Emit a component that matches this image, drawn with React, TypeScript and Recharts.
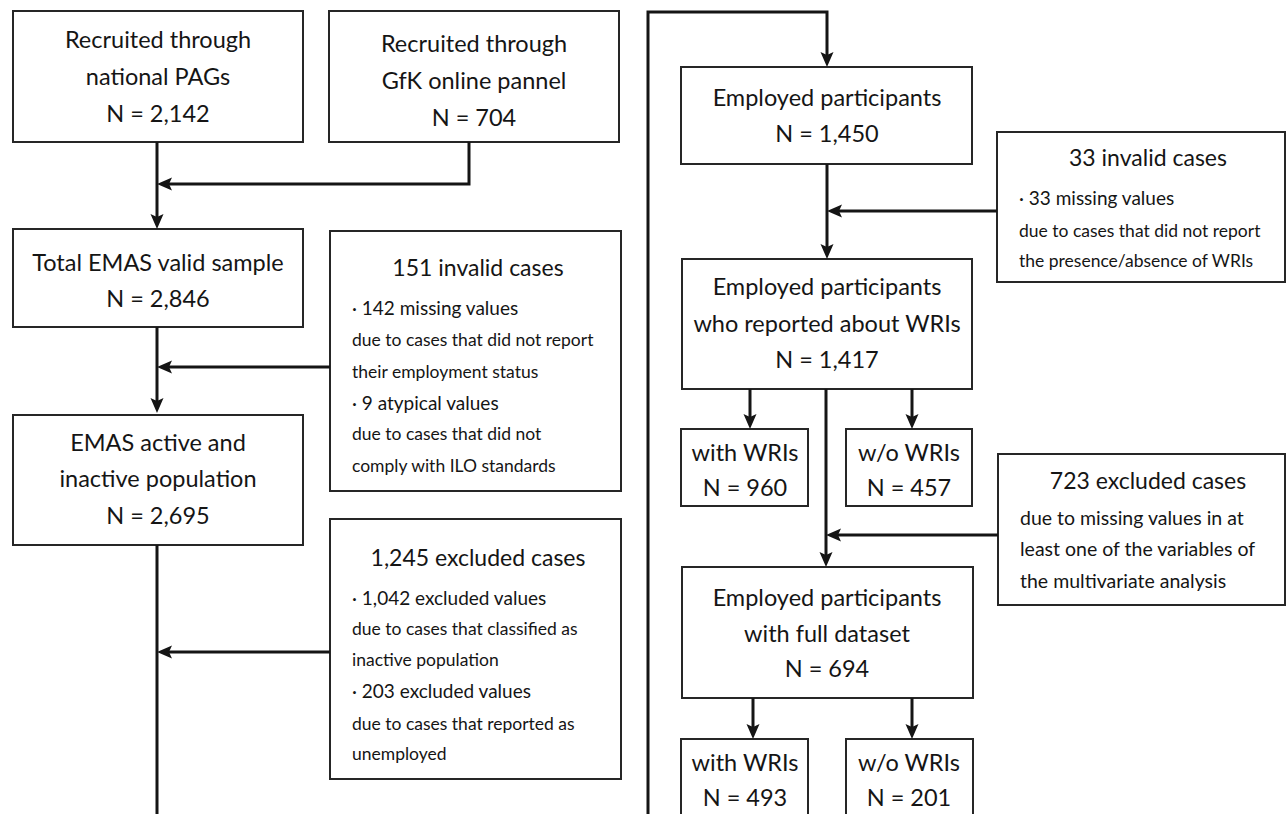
import { ScatterChart, Scatter, XAxis, YAxis, ReferenceArea } from "recharts";

// flowchart drawn on a pixel-like coordinate grid (0..1286 x 0..814, y down)
const W = 1286;
const H = 814;

const boxes = [
  { id: "pags", x1: 13, x2: 303, y1: 11, y2: 142 },
  { id: "gfk", x1: 329, x2: 619, y1: 11, y2: 142 },
  { id: "total", x1: 13, x2: 303, y1: 229, y2: 327 },
  { id: "invalid151", x1: 330, x2: 621, y1: 231, y2: 491 },
  { id: "active", x1: 13, x2: 303, y1: 415, y2: 545 },
  { id: "excluded1245", x1: 330, x2: 621, y1: 519, y2: 779 },
  { id: "employed", x1: 681, x2: 972, y1: 67, y2: 164 },
  { id: "invalid33", x1: 997, x2: 1285, y1: 132, y2: 282 },
  { id: "reported", x1: 682, x2: 972, y1: 259, y2: 389 },
  { id: "with1", x1: 681, x2: 808, y1: 429, y2: 506 },
  { id: "wo1", x1: 846, x2: 972, y1: 429, y2: 506 },
  { id: "excluded723", x1: 998, x2: 1285, y1: 454, y2: 605 },
  { id: "full", x1: 682, x2: 973, y1: 567, y2: 698 },
  { id: "with2", x1: 681, x2: 808, y1: 739, y2: 840 },
  { id: "wo2", x1: 846, x2: 973, y1: 739, y2: 840 },
];

// centred labels of the main boxes
const mainLabels = [
  { x: 158, y: 39, text: "Recruited through" },
  { x: 158, y: 76, text: "national PAGs" },
  { x: 158, y: 113, text: "N = 2,142" },
  { x: 474, y: 43, text: "Recruited through" },
  { x: 474, y: 80, text: "GfK online pannel" },
  { x: 474, y: 117, text: "N = 704" },
  { x: 158, y: 262, text: "Total EMAS valid sample" },
  { x: 158, y: 298, text: "N = 2,846" },
  { x: 158, y: 442, text: "EMAS active and" },
  { x: 158, y: 478, text: "inactive population" },
  { x: 158, y: 515, text: "N = 2,695" },
  { x: 827, y: 97, text: "Employed participants" },
  { x: 827, y: 133, text: "N = 1,450" },
  { x: 827, y: 286, text: "Employed participants" },
  { x: 827, y: 323, text: "who reported about WRIs" },
  { x: 827, y: 359, text: "N = 1,417" },
  { x: 745, y: 452, text: "with WRIs" },
  { x: 745, y: 487, text: "N = 960" },
  { x: 909, y: 452, text: "w/o WRIs" },
  { x: 909, y: 487, text: "N = 457" },
  { x: 827, y: 597, text: "Employed participants" },
  { x: 827, y: 633, text: "with full dataset" },
  { x: 827, y: 668, text: "N = 694" },
  { x: 745, y: 762, text: "with WRIs" },
  { x: 745, y: 797, text: "N = 493" },
  { x: 909, y: 762, text: "w/o WRIs" },
  { x: 909, y: 797, text: "N = 201" },
];

const sideTitles = [
  { x: 478, y: 267, text: "151 invalid cases" },
  { x: 478, y: 557, text: "1,245 excluded cases" },
  { x: 1148, y: 157, text: "33 invalid cases" },
  { x: 1148, y: 480, text: "723 excluded cases" },
];

const bulletLines = [
  { x: 352, y: 307, text: "· 142 missing values" },
  { x: 352, y: 402, text: "· 9 atypical values" },
  { x: 352, y: 597, text: "· 1,042 excluded values" },
  { x: 352, y: 690, text: "· 203 excluded values" },
  { x: 1019, y: 197, text: "· 33 missing values" },
];

const detailLines = [
  { x: 352, y: 339, text: "due to cases that did not report" },
  { x: 352, y: 371, text: "their employment status" },
  { x: 352, y: 433, text: "due to cases that did not" },
  { x: 352, y: 465, text: "comply with ILO standards" },
  { x: 352, y: 628, text: "due to cases that classified as" },
  { x: 352, y: 659, text: "inactive population" },
  { x: 352, y: 723, text: "due to cases that reported as" },
  { x: 352, y: 753, text: "unemployed" },
  { x: 1019, y: 230, text: "due to cases that did not report" },
  { x: 1019, y: 260, text: "the presence/absence of WRIs" },
];

const detailLines723 = [
  { x: 1020, y: 517, text: "due to missing values in at" },
  { x: 1020, y: 548, text: "least one of the variables of" },
  { x: 1020, y: 580, text: "the multivariate analysis" },
];

const connectors = [
  [{ x: 157, y: 142 }, { x: 157, y: 222 }],
  [{ x: 469, y: 142 }, { x: 469, y: 184 }, { x: 164, y: 184 }],
  [{ x: 157, y: 327 }, { x: 157, y: 405 }],
  [{ x: 330, y: 367 }, { x: 164, y: 367 }],
  [{ x: 157, y: 545 }, { x: 157, y: 830 }],
  [{ x: 330, y: 652 }, { x: 164, y: 652 }],
  [{ x: 648, y: 830 }, { x: 648, y: 12 }, { x: 827, y: 12 }, { x: 827, y: 60 }],
  [{ x: 827, y: 164 }, { x: 827, y: 252 }],
  [{ x: 997, y: 211 }, { x: 834, y: 211 }],
  [{ x: 750, y: 389 }, { x: 750, y: 422 }],
  [{ x: 912, y: 389 }, { x: 912, y: 422 }],
  [{ x: 826, y: 389 }, { x: 826, y: 560 }],
  [{ x: 998, y: 535 }, { x: 833, y: 535 }],
  [{ x: 753, y: 698 }, { x: 753, y: 732 }],
  [{ x: 912, y: 698 }, { x: 912, y: 732 }],
];

// arrow tips
const arrows = [
  { x: 157, y: 229, dir: "down" },
  { x: 157, y: 184, dir: "left" },
  { x: 157, y: 413, dir: "down" },
  { x: 157, y: 367, dir: "left" },
  { x: 157, y: 652, dir: "left" },
  { x: 827, y: 67, dir: "down" },
  { x: 827, y: 259, dir: "down" },
  { x: 827, y: 211, dir: "left" },
  { x: 750, y: 429, dir: "down" },
  { x: 912, y: 429, dir: "down" },
  { x: 826, y: 567, dir: "down" },
  { x: 826, y: 535, dir: "left" },
  { x: 753, y: 739, dir: "down" },
  { x: 912, y: 739, dir: "down" },
];

const FONT = "Lato, 'Open Sans', sans-serif";
const INK = "#151515";

const makeText = (size: number, anchor: "middle" | "start") => (props: any) => {
  const { cx, cy, payload } = props;
  return (
    <text
      x={cx}
      y={cy}
      textAnchor={anchor}
      dominantBaseline="central"
      fontSize={size}
      fontFamily={FONT}
      fill={INK}
    >
      {payload.text}
    </text>
  );
};

const ArrowHead = (props: any) => {
  const { cx, cy, payload } = props;
  const len = 15;
  const half = 6.5;
  const notch = 3;
  const pts =
    payload.dir === "down"
      ? [
          [cx, cy],
          [cx - half, cy - len],
          [cx, cy - len + notch],
          [cx + half, cy - len],
        ]
      : [
          [cx, cy],
          [cx + len, cy - half],
          [cx + len - notch, cy],
          [cx + len, cy + half],
        ];
  return <polygon points={pts.map((p) => p.join(",")).join(" ")} fill={INK} />;
};

const Nothing = () => <g />;

export default function App() {
  return (
    <div style={{ position: "absolute", left: 0, top: 0, background: "#fff" }}>
      <ScatterChart
        width={W}
        height={H}
        margin={{ top: 0, right: 0, bottom: 0, left: 0 }}
      >
        <XAxis type="number" dataKey="x" domain={[0, W]} hide allowDataOverflow />
        <YAxis
          type="number"
          dataKey="y"
          domain={[0, H]}
          reversed
          hide
          allowDataOverflow
        />
        {boxes.map((b) => (
          <ReferenceArea
            key={b.id}
            x1={b.x1}
            x2={b.x2}
            y1={b.y1}
            y2={b.y2}
            fill="none"
            stroke="#262626"
            strokeWidth={2}
            ifOverflow="visible"
          />
        ))}
        {connectors.map((c, i) => (
          <Scatter
            key={`c${i}`}
            data={c}
            line={{ stroke: INK, strokeWidth: 3 }}
            lineJointType="linear"
            shape={Nothing}
            isAnimationActive={false}
          />
        ))}
        <Scatter data={arrows} shape={ArrowHead} isAnimationActive={false} />
        <Scatter data={mainLabels} shape={makeText(23.5, "middle")} isAnimationActive={false} />
        <Scatter data={sideTitles} shape={makeText(23, "middle")} isAnimationActive={false} />
        <Scatter data={bulletLines} shape={makeText(19, "start")} isAnimationActive={false} />
        <Scatter data={detailLines} shape={makeText(17.5, "start")} isAnimationActive={false} />
        <Scatter data={detailLines723} shape={makeText(19.5, "start")} isAnimationActive={false} />
      </ScatterChart>
    </div>
  );
}
